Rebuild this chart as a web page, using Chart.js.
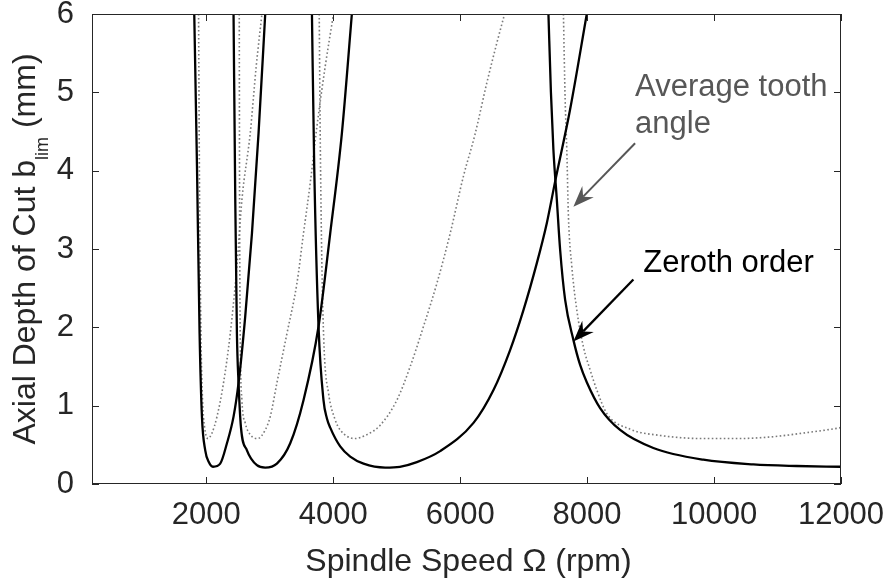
<!DOCTYPE html>
<html>
<head>
<meta charset="utf-8">
<script src="https://cdn.jsdelivr.net/npm/chart.js@4.4.0/dist/chart.umd.min.js"></script>
<style>
  html, body { margin: 0; padding: 0; background: #fff; }
  canvas { display: block; }
</style>
</head>
<body>
<canvas id="myChart" width="888" height="578"></canvas>
<script>
const xTicks = [2000, 4000, 6000, 8000, 10000, 12000];
const yTicks = [0, 1, 2, 3, 4, 5, 6];

// zeroth order solution, solid black lobes
const zeroth1Rpm = [1811, 1854, 1895, 1932, 1984, 2040, 2106, 2220, 2326, 2430, 2509, 2614, 2720, 2824, 2929];
const zeroth1B   = [6.0, 4.05, 1.92, 0.86, 0.43, 0.28, 0.22, 0.26, 0.52, 0.86, 1.29, 2.14, 3.20, 4.48, 6.0];

const zeroth2Rpm = [2430, 2457, 2483, 2509, 2546, 2641, 2798, 2929, 3113, 3323, 3532, 3769, 3953, 4137, 4294];
const zeroth2B   = [6.0, 3.63, 1.92, 1.29, 0.73, 0.43, 0.24, 0.21, 0.26, 0.52, 1.07, 2.01, 3.20, 4.48, 6.0];

const zeroth3Rpm = [3665, 3701, 3769, 3847, 3900, 3953, 4110, 4268, 4478, 4819, 5050, 5318, 5685, 6210, 6525, 6787, 6997, 7208, 7365, 7496, 7732, 7995];
const zeroth3B   = [6.0, 4.05, 2.01, 1.07, 0.84, 0.72, 0.48, 0.35, 0.26, 0.21, 0.22, 0.28, 0.42, 0.78, 1.20, 1.71, 2.22, 2.82, 3.33, 3.86, 4.78, 6.0];

const zeroth4Rpm = [7391, 7430, 7469, 7523, 7575, 7654, 7784, 7890, 7995, 8205, 8520, 9044, 9831, 10619, 11300, 12000];
const zeroth4B   = [6.0, 5.0, 4.27, 3.63, 2.99, 2.35, 1.84, 1.52, 1.30, 0.97, 0.69, 0.46, 0.31, 0.25, 0.23, 0.22];

// average tooth angle solution, dotted grey lobes
const average1Rpm = [1879, 1895, 1916, 1942, 1973, 2027, 2090, 2169, 2272, 2378, 2483, 2562, 2693, 2787, 2877];
const average1B   = [6.0, 3.63, 1.92, 1.07, 0.73, 0.58, 0.65, 0.86, 1.29, 1.92, 2.78, 3.63, 4.48, 5.33, 6.0];

const average2Rpm = [2520, 2525, 2535, 2562, 2614, 2693, 2809, 2929, 3008, 3113, 3271, 3428, 3532, 3638, 3743, 3874, 4005];
const average2B   = [6.0, 3.63, 1.92, 1.07, 0.78, 0.63, 0.58, 0.69, 0.86, 1.29, 1.92, 2.56, 3.20, 3.84, 4.56, 5.33, 6.0];

const average3Rpm = [3780, 3795, 3822, 3858, 3926, 4031, 4110, 4346, 4531, 4740, 5003, 5213, 5422, 5633, 5843, 6052, 6230, 6420, 6578, 6700];
const average3B   = [6.0, 4.48, 2.78, 1.71, 1.16, 0.82, 0.69, 0.58, 0.63, 0.75, 1.07, 1.50, 2.01, 2.56, 3.20, 3.93, 4.45, 5.12, 5.63, 6.0];

const average4Rpm = [7627, 7654, 7680, 7706, 7759, 7838, 7942, 8050, 8153, 8310, 8677, 9150, 9831, 10357, 10882, 11406, 11932, 12000];
const average4B   = [6.0, 4.91, 4.27, 3.41, 2.78, 2.22, 1.75, 1.45, 1.20, 0.90, 0.70, 0.62, 0.58, 0.58, 0.60, 0.65, 0.71, 0.72];

const FONT = "'Liberation Sans', Arial, Helvetica, sans-serif";

const toPoints = (xs, ys) => xs.map((x, i) => ({ x: x, y: ys[i] }));

const solid = (xs, ys) => ({
  data: toPoints(xs, ys),
  showLine: true,
  borderColor: "#000000",
  borderWidth: 2.3,
  pointRadius: 0,
  cubicInterpolationMode: "monotone",
});

const dotted = (xs, ys) => ({
  data: toPoints(xs, ys),
  showLine: true,
  borderColor: "#7a7a7a",
  borderWidth: 1.6,
  borderDash: [1.6, 2.4],
  pointRadius: 0,
  cubicInterpolationMode: "monotone",
});

function drawArrow(ctx, x0, y0, x1, y1, color, width) {
  const ang = Math.atan2(y1 - y0, x1 - x0);
  const len = 21, half = 8, notch = 14;
  ctx.strokeStyle = color;
  ctx.lineWidth = width;
  ctx.beginPath();
  ctx.moveTo(x0, y0);
  ctx.lineTo(x1 - Math.cos(ang) * notch, y1 - Math.sin(ang) * notch);
  ctx.stroke();
  ctx.save();
  ctx.translate(x1, y1);
  ctx.rotate(ang);
  ctx.beginPath();
  ctx.moveTo(0, 0);
  ctx.lineTo(-len, -half);
  ctx.lineTo(-notch, 0);
  ctx.lineTo(-len, half);
  ctx.closePath();
  ctx.fillStyle = color;
  ctx.fill();
  ctx.restore();
}

// box with inward ticks, axis titles and the two callouts
const frame = {
  id: "frame",
  afterDraw(chart) {
    const { ctx, chartArea: a, scales: { x, y } } = chart;
    ctx.save();

    ctx.strokeStyle = "#262626";
    ctx.lineWidth = 1;
    ctx.strokeRect(a.left + 0.5, a.top + 0.5, a.right - a.left - 1, a.bottom - a.top - 1);
    const tl = 7;
    ctx.beginPath();
    xTicks.forEach((v) => {
      const px = Math.round(x.getPixelForValue(v)) + 0.5;
      ctx.moveTo(px, a.bottom); ctx.lineTo(px, a.bottom - tl);
      ctx.moveTo(px, a.top); ctx.lineTo(px, a.top + tl);
    });
    yTicks.forEach((v) => {
      const py = Math.round(y.getPixelForValue(v)) + 0.5;
      ctx.moveTo(a.left, py); ctx.lineTo(a.left + tl, py);
      ctx.moveTo(a.right, py); ctx.lineTo(a.right - tl, py);
    });
    ctx.stroke();

    // x title
    ctx.fillStyle = "#262626";
    ctx.font = "32px " + FONT;
    ctx.textAlign = "center";
    ctx.textBaseline = "alphabetic";
    ctx.fillText("Spindle Speed \u03A9 (rpm)", (a.left + a.right) / 2 + 2, 571);

    // y title with subscript
    const main = "Axial Depth of Cut b", sub = "lim", tail = " (mm)";
    ctx.font = "32px " + FONT;
    const w1 = ctx.measureText(main).width, w3 = ctx.measureText(tail).width;
    ctx.font = "18px " + FONT;
    const w2 = ctx.measureText(sub).width;
    const total = w1 + w2 + w3;
    ctx.translate(35, (a.top + a.bottom) / 2);
    ctx.rotate(-Math.PI / 2);
    ctx.textAlign = "left";
    let cx = -total / 2;
    ctx.font = "32px " + FONT;
    ctx.fillText(main, cx, 0);
    cx += w1;
    ctx.font = "18px " + FONT;
    ctx.fillText(sub, cx, 13);
    cx += w2;
    ctx.font = "32px " + FONT;
    ctx.fillText(tail, cx, 0);
    ctx.restore();
  },
  afterDatasetsDraw(chart) {
    const { ctx, scales: { x, y } } = chart;
    ctx.save();
    ctx.font = "31px " + FONT;
    ctx.textAlign = "left";
    ctx.textBaseline = "alphabetic";

    ctx.fillStyle = "#575757";
    ctx.fillText("Average tooth", x.getPixelForValue(8756), y.getPixelForValue(4.95));
    ctx.fillText("angle", x.getPixelForValue(8756), y.getPixelForValue(4.48));
    drawArrow(ctx, x.getPixelForValue(8756), y.getPixelForValue(4.35),
      x.getPixelForValue(7784), y.getPixelForValue(3.54), "#575757", 2);

    ctx.fillStyle = "#000000";
    ctx.fillText("Zeroth order", x.getPixelForValue(8886), y.getPixelForValue(2.71));
    drawArrow(ctx, x.getPixelForValue(8729), y.getPixelForValue(2.61),
      x.getPixelForValue(7784), y.getPixelForValue(1.82), "#000000", 2.3);
    ctx.restore();
  },
};

const ctx = document.getElementById("myChart");
const myChart = new Chart(ctx, {
  type: "scatter",
  data: {
    datasets: [
      solid(zeroth1Rpm, zeroth1B),
      solid(zeroth2Rpm, zeroth2B),
      solid(zeroth3Rpm, zeroth3B),
      solid(zeroth4Rpm, zeroth4B),
      dotted(average1Rpm, average1B),
      dotted(average2Rpm, average2B),
      dotted(average3Rpm, average3B),
      dotted(average4Rpm, average4B),
    ],
  },
  options: {
    responsive: false,
    animation: false,
    layout: { padding: { top: 14, right: 47, left: 0, bottom: 0 } },
    plugins: {
      legend: { display: false },
      tooltip: { enabled: false },
    },
    scales: {
      x: {
        type: "linear",
        min: 200,
        max: 12000,
        afterBuildTicks: (s) => { s.ticks = xTicks.map((v) => ({ value: v })); },
        afterFit: (s) => {
          s.height = 94;
          s.paddingLeft = 0;
          s.paddingRight = 0;
        },
        grid: { display: false, drawTicks: false },
        border: { display: false },
        ticks: {
          font: { family: FONT, size: 31 },
          color: "#262626",
          padding: 13,
          maxRotation: 0,
          autoSkip: false,
          callback: (v) => String(v),
        },
      },
      y: {
        type: "linear",
        min: 0,
        max: 6,
        afterBuildTicks: (s) => { s.ticks = yTicks.map((v) => ({ value: v })); },
        afterFit: (s) => {
          s.width = 92;
          s.paddingTop = 0;
          s.paddingBottom = 0;
        },
        grid: { display: false, drawTicks: false },
        border: { display: false },
        ticks: {
          font: { family: FONT, size: 31 },
          color: "#262626",
          padding: 18,
          callback: (v) => String(v),
        },
      },
    },
  },
  plugins: [frame],
});
</script>
</body>
</html>
